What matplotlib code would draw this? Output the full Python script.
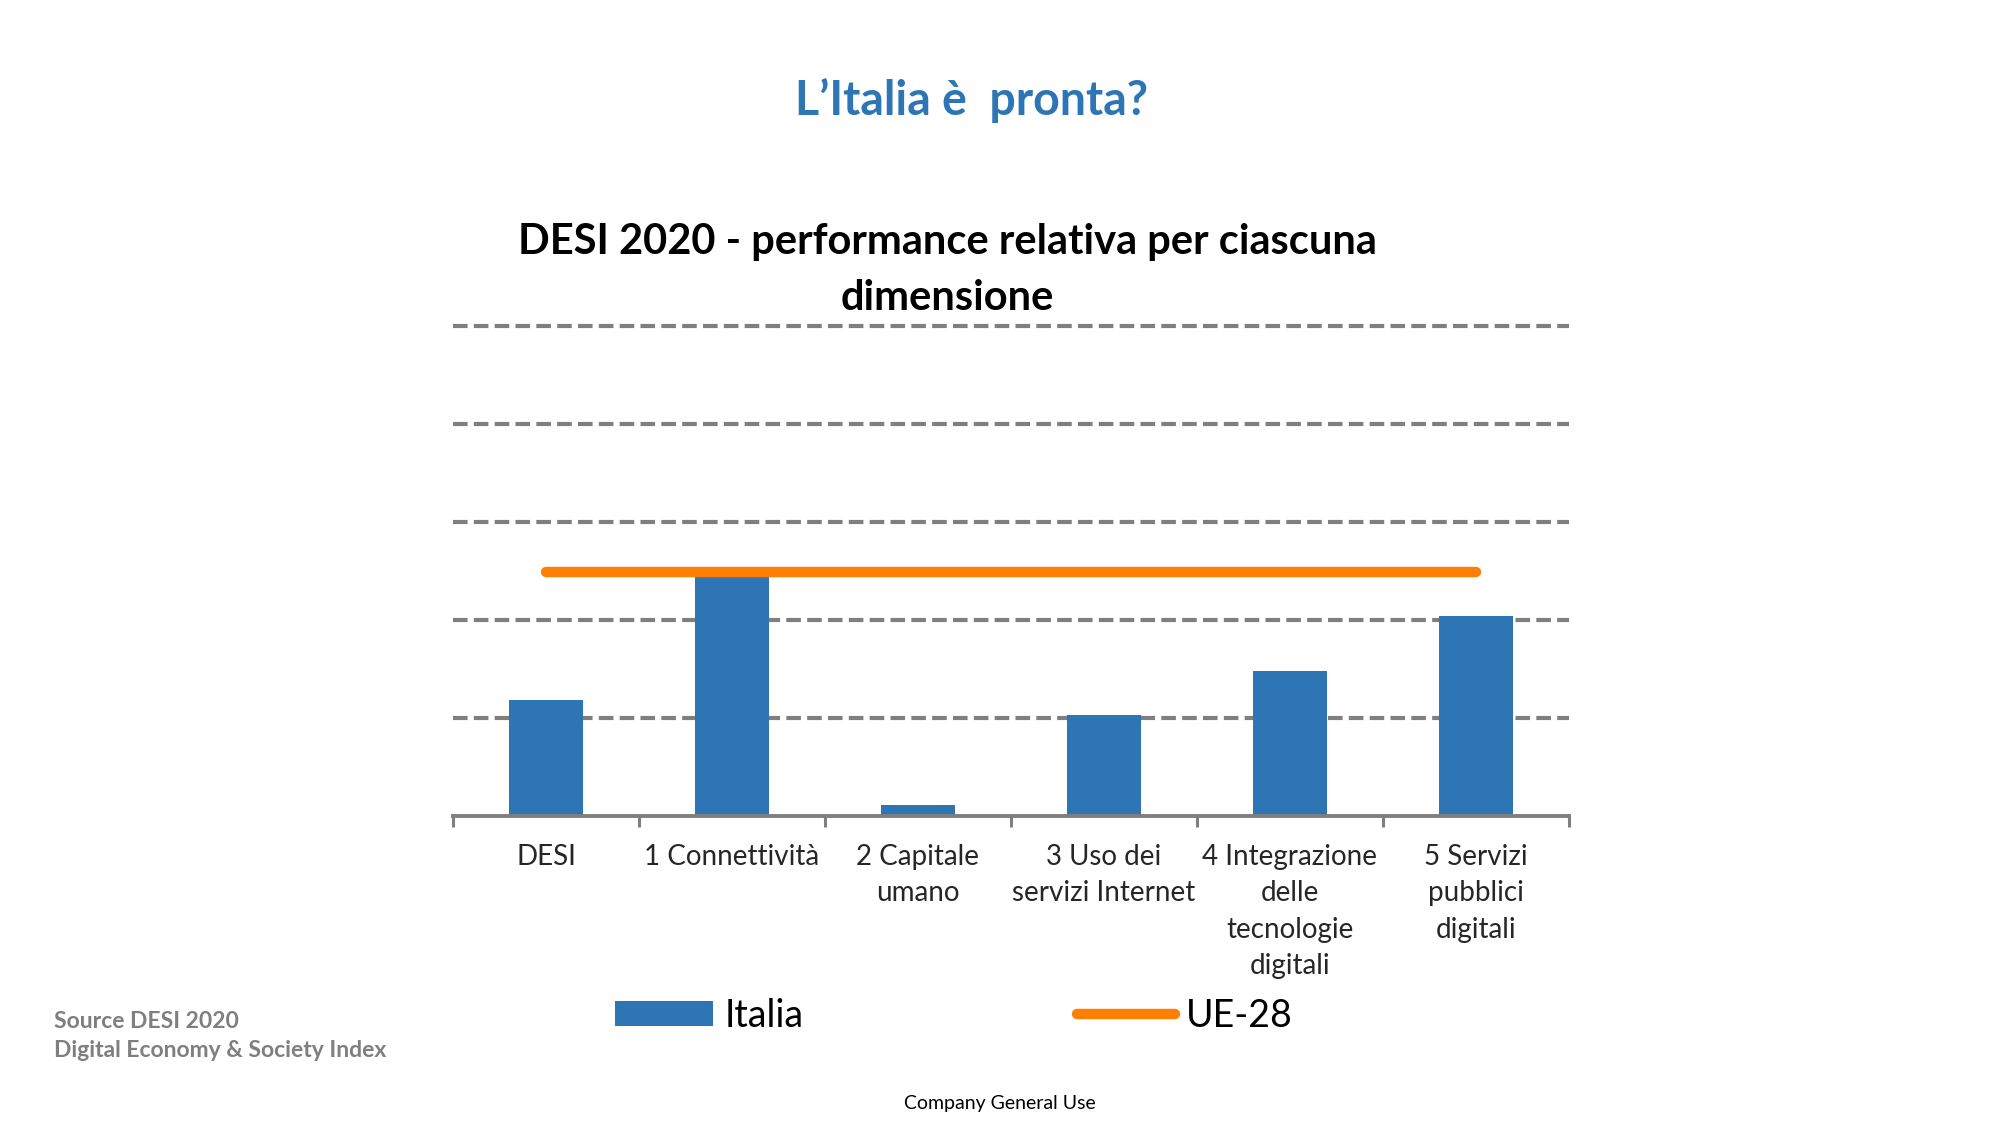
import matplotlib
matplotlib.use("Agg")
import matplotlib.pyplot as plt
from matplotlib.lines import Line2D
from matplotlib.patches import Patch

plt.rcParams['font.family'] = ['Lato', 'DejaVu Sans']

categories = ["DESI", "1 Connettività", "2 Capitale\numano", "3 Uso dei\nservizi Internet",
              "4 Integrazione\ndelle\ntecnologie\ndigitali", "5 Servizi\npubblici\ndigitali"]
italia = [1.18, 2.45, 0.11, 1.03, 1.48, 2.04]
ue28 = [2.49, 2.49, 2.49, 2.49, 2.49, 2.49]
grid_levels = [1, 2, 3, 4, 5]

BLUE = "#2E75B6"
ORANGE = "#FF8000"
GRID = "#7F7F7F"

fig = plt.figure(figsize=(20, 11.25), dpi=100)
ax = fig.add_axes([0.2265, 0.2747, 0.558, 0.4351])

x = list(range(len(categories)))
for g in grid_levels:
    ax.axhline(g, color=GRID, lw=3.0, linestyle=(0, (3.5, 1.5)), zorder=1, clip_on=False)
ax.bar(x, italia, width=0.4, color=BLUE, zorder=2)
ax.plot(x, ue28, color=ORANGE, lw=7.5, solid_capstyle='round', zorder=3)

ax.set_xlim(-0.5, 5.5)
ax.set_ylim(0, 5)
for s in ['top', 'right', 'left']:
    ax.spines[s].set_visible(False)
ax.spines['bottom'].set_color(GRID)
ax.spines['bottom'].set_linewidth(2.8)
ax.set_yticks([])
ax.set_xticks(x)
ax.set_xticklabels(categories, fontsize=20, color="#262626", linespacing=1.5)
ax.tick_params(axis='x', which='major', length=0, pad=20)
ax.set_xticks([i - 0.5 for i in range(len(categories) + 1)], minor=True)
ax.tick_params(axis='x', which='minor', length=8, width=2.2, color=GRID, direction='out')

fig.text(0.486, 0.911, "L\u2019Italia è  pronta?", ha='center', va='center',
         fontsize=33.5, fontweight='bold', color=BLUE)
fig.text(0.4735, 0.760, "DESI 2020 - performance relativa per ciascuna\ndimensione",
         ha='center', va='center', fontsize=30, fontweight='bold', color='black',
         linespacing=1.56)

handles = [Patch(facecolor=BLUE, edgecolor='none'),
           Line2D([0], [0], color=ORANGE, lw=7.5, solid_capstyle='round')]
fig.legend(handles, ["Italia", "UE-28"], loc='center', bbox_to_anchor=(0.477, 0.097),
           ncol=2, frameon=False, fontsize=27, handlelength=2.6, handleheight=0.65,
           handletextpad=0.3, columnspacing=7.3)

fig.text(0.027, 0.079, "Source DESI 2020\nDigital Economy & Society Index", ha='left', va='center',
         fontsize=16.5, fontweight='bold', color="#7F7F7F", linespacing=1.5)
fig.text(0.5, 0.019, "Company General Use", ha='center', va='center', fontsize=14, color='black')

fig.savefig("out.png", dpi=100)
